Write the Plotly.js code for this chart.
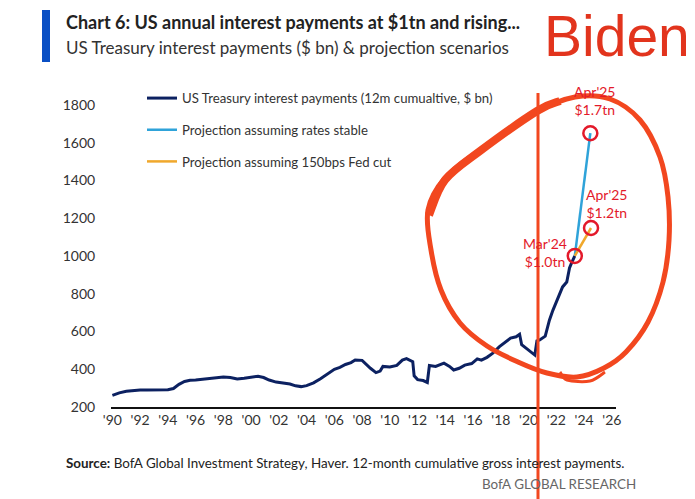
<!DOCTYPE html>
<html>
<head>
<meta charset="utf-8">
<script src="https://cdn.plot.ly/plotly-3.0.1.min.js"></script>
<style>html,body{margin:0;padding:0;background:#fff;}#chart{width:695px;height:499px;}</style>
</head>
<body>
<div id="chart"></div>
<script>
// ---- data (decimal year on the chart's own tick scale, $ bn) ----
const histYears = [1990.0,1990.5,1991.0,1991.5,1992.0,1992.5,1993.0,1993.5,1994.0,1994.4,1994.8,1995.2,1995.6,1996.0,1996.5,1997.0,1997.5,1998.0,1998.5,1999.0,1999.5,2000.0,2000.5,2000.9,2001.3,2001.8,2002.3,2002.8,2003.2,2003.6,2004.0,2004.5,2005.0,2005.5,2006.0,2006.4,2006.8,2007.2,2007.5,2008.0,2008.3,2008.6,2009.0,2009.3,2009.5,2010.0,2010.5,2010.9,2011.2,2011.5,2011.65,2011.75,2012.0,2012.4,2012.7,2012.85,2013.3,2013.9,2014.3,2014.6,2015.0,2015.4,2015.9,2016.3,2016.6,2017.0,2017.4,2017.9,2018.3,2018.7,2019.1,2019.35,2019.5,2019.8,2020.2,2020.45,2020.6,2020.8,2021.2,2021.5,2021.75,2022.0,2022.25,2022.45,2022.75,2022.85,2022.95,2023.1,2023.33];
const histValues = [262,275,283,287,290,290,289,290,291,298,320,335,342,343,347,354,357,359,356,348,352,358,363,356,343,332,328,322,312,308,313,328,350,375,400,410,425,435,449,447,425,405,382,390,415,412,420,448,456,447,440,365,345,340,330,420,415,432,415,396,405,422,430,455,448,463,484,520,545,565,572,585,530,512,490,475,550,555,575,660,712,756,804,836,862,910,936,963,1000];
const stableYears = [2023.33, 2024.45];
const stableValues = [1000, 1650];
const cutYears = [2023.33, 2024.5];
const cutValues = [1000, 1148];
const tickYears = [1990,1992,1994,1996,1998,2000,2002,2004,2006,2008,2010,2012,2014,2016,2018,2020,2022,2024,2026];
const tickLabels = ["'90","'92","'94","'96","'98","'00","'02","'04","'06","'08","'10","'12","'14","'16","'18","'20","'22","'24","'26"];
const yTicks = [200,400,600,800,1000,1200,1400,1600,1800];
const seriesNames = ["US Treasury interest payments (12m cumualtive, $ bn)","Projection assuming rates stable","Projection assuming 150bps Fed cut"];

// ---- layout geometry ----
const L = 111, R = 79, T = 86, B = 92, W = 695 - L - R, H = 499 - T - B;
const px = p => (p - L) / W;
const py = p => (499 - B - p) / H;

const NAVY = '#0c2161', LBLUE = '#2fa3d9', ORANGE = '#f0a82c', RED = '#e3192a', MARK = '#f2471f';
const FONT = 'Lato, "Open Sans", sans-serif';

const traces = [
  {x: histYears, y: histValues, name: seriesNames[0], mode: 'lines', line: {color: NAVY, width: 3}, legendgroup: 'a'},
  {x: stableYears, y: stableValues, name: seriesNames[1], mode: 'lines', line: {color: LBLUE, width: 2.5}, legendgroup: 'b'},
  {x: cutYears, y: cutValues, name: seriesNames[2], mode: 'lines', line: {color: ORANGE, width: 2.5}, legendgroup: 'c'},
  {x: [histYears[histYears.length-1], stableYears[1], cutYears[1]],
   y: [histValues[histValues.length-1], stableValues[1], cutValues[1]],
   mode: 'markers', showlegend: false, cliponaxis: false,
   marker: {symbol: 'circle-open', size: 14, color: RED, line: {width: 2.5, color: RED}}}
];

// smooth path through page-pixel points (Catmull-Rom -> Bezier), in paper coords
function smoothPath(pts, closed) {
  const P = pts.map(p => [px(p[0]), py(p[1])]);
  const n = P.length;
  const get = i => closed ? P[(i + n) % n] : P[Math.max(0, Math.min(n - 1, i))];
  let d = 'M ' + P[0][0].toFixed(4) + ',' + P[0][1].toFixed(4);
  const segs = closed ? n : n - 1;
  for (let i = 0; i < segs; i++) {
    const p0 = get(i - 1), p1 = get(i), p2 = get(i + 1), p3 = get(i + 2);
    const c1 = [p1[0] + (p2[0] - p0[0]) / 6, p1[1] + (p2[1] - p0[1]) / 6];
    const c2 = [p2[0] - (p3[0] - p1[0]) / 6, p2[1] - (p3[1] - p1[1]) / 6];
    d += ' C ' + c1.map(v => v.toFixed(4)).join(',') + ' ' + c2.map(v => v.toFixed(4)).join(',') + ' ' + p2.map(v => v.toFixed(4)).join(',');
  }
  if (closed) d += ' Z';
  return d;
}
const loopPts = [[428,210],[445,178],[480,150],[537,112],[575,97],[610,99],[640,120],[660,157],[668,197],[669,240],[663,282],[648,322],[626,352],[604,368],[577,377],[547,373],[518,362],[487,346],[460,323],[441,290],[431,250]];
const thickPts = [[429,215],[445,180],[480,151],[537,111],[560,101]];
const hookPts = [[560,372],[567,380],[590,381],[605,372]];

const shapes = [
  {type: 'rect', xref: 'paper', yref: 'paper', x0: px(42), x1: px(50), y0: py(62), y1: py(10), fillcolor: '#0a4fc4', line: {width: 0}},
  {type: 'path', xref: 'paper', yref: 'paper', path: smoothPath(loopPts, true), line: {color: MARK, width: 5}},
  {type: 'path', xref: 'paper', yref: 'paper', path: smoothPath(thickPts, false), line: {color: MARK, width: 8}},
  {type: 'path', xref: 'paper', yref: 'paper', path: smoothPath(hookPts, false), line: {color: MARK, width: 3}},
  {type: 'line', xref: 'paper', yref: 'paper', x0: px(538), x1: px(538), y0: py(93), y1: py(499), line: {color: MARK, width: 3}}
];

const annotations = [
  {xref: 'paper', yref: 'paper', x: px(64), y: py(22), xanchor: 'left', yanchor: 'middle', showarrow: false,
   text: '<b>Chart 6: US annual interest payments at $1tn and rising...</b>', font: {family: FONT, size: 18, color: '#222'}},
  {xref: 'paper', yref: 'paper', x: px(64), y: py(48), xanchor: 'left', yanchor: 'middle', showarrow: false,
   text: 'US Treasury interest payments ($ bn) & projection scenarios', font: {family: FONT, size: 17, color: '#333'}},
  {xref: 'paper', yref: 'paper', x: px(617), y: py(36), xanchor: 'center', yanchor: 'middle', showarrow: false,
   text: 'Biden', font: {family: 'Liberation Sans, Arial, sans-serif', size: 57, color: '#e2341d'}},
  {xref: 'paper', yref: 'paper', x: px(595), y: py(100), xanchor: 'center', yanchor: 'middle', showarrow: false,
   text: "Apr'25<br>$1.7tn", font: {family: FONT, size: 14, color: RED}},
  {xref: 'paper', yref: 'paper', x: px(607), y: py(203), xanchor: 'center', yanchor: 'middle', showarrow: false,
   text: "Apr'25<br>$1.2tn", font: {family: FONT, size: 14, color: RED}},
  {xref: 'paper', yref: 'paper', x: px(545), y: py(252), xanchor: 'center', yanchor: 'middle', showarrow: false,
   text: "Mar'24<br>$1.0tn", font: {family: FONT, size: 14, color: RED}},
  {xref: 'paper', yref: 'paper', x: px(64), y: py(463), xanchor: 'left', yanchor: 'middle', showarrow: false,
   text: '<b>Source:</b> BofA Global Investment Strategy, Haver. 12-month cumulative gross interest payments.', font: {family: FONT, size: 13.4, color: '#222'}},
  {xref: 'paper', yref: 'paper', x: px(638), y: py(484), xanchor: 'right', yanchor: 'middle', showarrow: false,
   text: 'BofA GLOBAL RESEARCH', font: {family: FONT, size: 13.4, color: '#666'}}
];

const layout = {
  width: 695, height: 499,
  margin: {l: L, r: R, t: T, b: B},
  paper_bgcolor: '#fff', plot_bgcolor: '#fff',
  font: {family: FONT, size: 14, color: '#333'},
  showlegend: true,
  legend: {x: px(142), y: py(83), xanchor: 'left', yanchor: 'top', bgcolor: 'rgba(0,0,0,0)',
           font: {family: FONT, size: 13.2, color: '#333'}, tracegroupgap: 11.5, itemwidth: 30},
  xaxis: {range: [1989.9, 2026.3], tickvals: tickYears, ticktext: tickLabels, showgrid: false, zeroline: false,
          showline: true, linecolor: '#111', linewidth: 1.5, ticks: '', tickfont: {family: FONT, size: 14, color: '#333'}},
  yaxis: {range: [200, 1900], tickvals: yTicks, showgrid: false, zeroline: false, showline: false,
          ticks: 'outside', ticklen: 12, tickcolor: 'rgba(0,0,0,0)', tickfont: {family: FONT, size: 14, color: '#333'}},
  shapes: shapes,
  annotations: annotations
};

Plotly.newPlot('chart', traces, layout, {staticPlot: true, displayModeBar: false});
</script>
</body>
</html>
